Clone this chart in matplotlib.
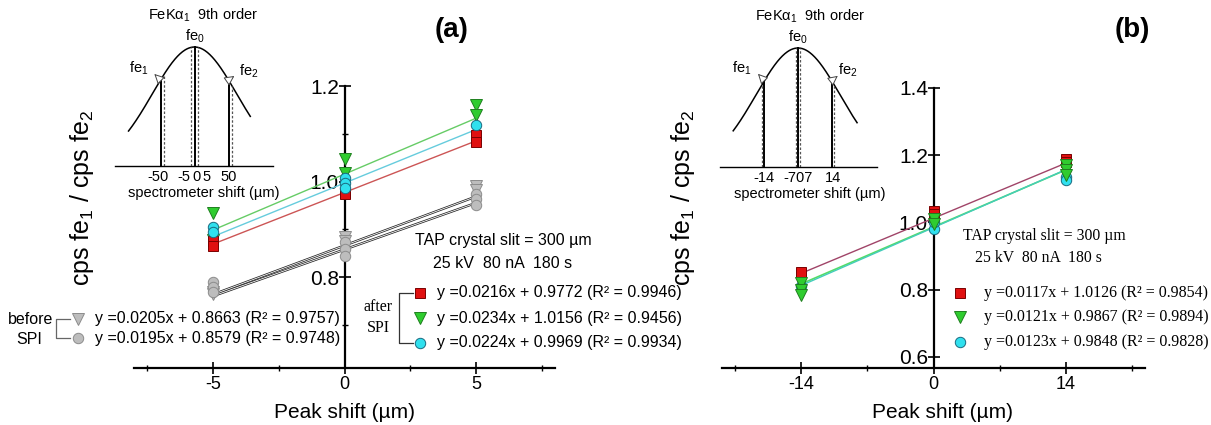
import numpy as np
import matplotlib
matplotlib.use('Agg')
import matplotlib.pyplot as plt

plt.rcParams['font.family'] = ['Liberation Sans', 'DejaVu Sans']
plt.rcParams['mathtext.fontset'] = 'custom'
plt.rcParams['mathtext.rm'] = 'Liberation Sans'
plt.rcParams['mathtext.it'] = 'Liberation Sans:italic'

# ---- panel (a) data: peak shift -5/0/5 um, replicate ratios
a_tri_grey_x = [-5, -5, 0, 0, 5, 5]
a_tri_grey_y = [0.770, 0.765, 0.885, 0.875, 0.990, 0.982]
a_cir_grey_x = [-5, -5, -5, 0, 0, 0, 5, 5, 5]
a_cir_grey_y = [0.790, 0.780, 0.770, 0.873, 0.858, 0.844, 0.973, 0.963, 0.950]
a_red_x = [-5, -5, 0, 0, 5, 5]
a_red_y = [0.875, 0.865, 0.977, 0.973, 1.098, 1.083]
a_green_x = [-5, -5, 0, 0, 5, 5]
a_green_y = [0.935, 0.877, 1.048, 1.019, 1.160, 1.140]
a_cyan_x = [-5, -5, 0, 0, 0, 5]
a_cyan_y = [0.906, 0.894, 1.008, 0.998, 0.987, 1.119]

# linear fits (slope, intercept), order: grey tri, grey circle, red, green, cyan
a_slope = [0.0205, 0.0195, 0.0216, 0.0234, 0.0224]
a_intercept = [0.8663, 0.8579, 0.9772, 1.0156, 0.9969]
a_r2 = [0.9757, 0.9748, 0.9946, 0.9456, 0.9934]
a_fit_range = [-5, 5]

# ---- panel (b) data: peak shift -14/0/14 um
b_red_x = [-14, 0, 0, 14, 14]
b_red_y = [0.852, 1.035, 1.025, 1.190, 1.180]
b_green_x = [-14, -14, -14, 0, 0, 14, 14, 14]
b_green_y = [0.820, 0.800, 0.785, 1.010, 0.995, 1.170, 1.155, 1.140]
b_cyan_x = [-14, 0, 0, 14, 14]
b_cyan_y = [0.810, 0.980, 1.000, 1.135, 1.125]

b_slope = [0.0117, 0.0121, 0.0123]
b_intercept = [1.0126, 0.9867, 0.9848]
b_r2 = [0.9854, 0.9894, 0.9828]
b_fit_range = [-14, 14]

# ---- styles
st_red = dict(marker='s', ms=7, mfc='#e01010', mec='#7a0000', mew=0.7, ls='none')
st_green = dict(marker='v', ms=8, mfc='#2fcc2f', mec='#1f7f1f', mew=0.7, ls='none')
st_cyan = dict(marker='o', ms=7.5, mfc='#30e0ee', mec='#1a6a80', mew=0.7, ls='none')
st_gtri = dict(marker='v', ms=8, mfc='#bdbdbd', mec='#8c8c8c', mew=0.7, ls='none')
st_gcir = dict(marker='o', ms=7.5, mfc='#bdbdbd', mec='#8c8c8c', mew=0.7, ls='none')

W, H = 1211, 425
fig = plt.figure(figsize=(W / 100, H / 100), dpi=100)


def px_rect(l, r, t, b):
    return [l / W, 1 - b / H, (r - l) / W, (b - t) / H]


def eq_text(m, c, r2):
    return 'y =%.4fx + %.4f (R² = %.4f)' % (m, c, r2)


def style_axes(ax, xlim, ylim, xmaj, xmin, ymaj, ymin):
    ax.set_xlim(xlim)
    ax.set_ylim(ylim)
    ax.patch.set_visible(False)
    for s in ['top', 'right']:
        ax.spines[s].set_visible(False)
    ax.spines['left'].set_position(('data', 0))
    ax.spines['left'].set_linewidth(1.6)
    ax.spines['bottom'].set_linewidth(1.6)
    ax.set_xticks(xmaj)
    ax.set_xticks(xmin, minor=True)
    ax.set_yticks(ymaj)
    ax.set_yticks(ymin, minor=True)
    ax.set_yticklabels(['%.1f' % v for v in ymaj])
    ax.set_xticklabels(['%g' % v for v in xmaj])
    ax.tick_params(axis='x', which='major', direction='inout', length=8, width=1.2, labelsize=13, pad=2)
    ax.tick_params(axis='x', which='minor', direction='inout', length=5, width=1.0)
    ax.tick_params(axis='y', which='major', direction='inout', length=8, width=1.2, labelsize=15, pad=0)
    ax.tick_params(axis='y', which='minor', direction='inout', length=4, width=1.0)


# ================= panel (a)
ax_a = fig.add_axes(px_rect(134, 555, 86, 368))
style_axes(ax_a, (-8, 8), (0.61, 1.2), [-5, 0, 5], [-7.5, -2.5, 2.5, 7.5],
           [0.8, 1.0, 1.2], [0.7, 0.9, 1.1])

xf = np.array(a_fit_range)
for i in [0, 1]:
    ax_a.plot(xf, a_slope[i] * xf + a_intercept[i], color='#222222', lw=1.7, zorder=2)
    ax_a.plot(xf, a_slope[i] * xf + a_intercept[i], color='white', lw=0.6, zorder=2.1)
ax_a.plot(xf, a_slope[2] * xf + a_intercept[2], color='#cc5555', lw=1.0, zorder=2)
ax_a.plot(xf, a_slope[3] * xf + a_intercept[3], color='#66cc66', lw=1.0, zorder=2)
ax_a.plot(xf, a_slope[4] * xf + a_intercept[4], color='#66ccdd', lw=1.0, zorder=2)

ax_a.plot(a_tri_grey_x, a_tri_grey_y, zorder=3, clip_on=False, **st_gtri)
ax_a.plot(a_cir_grey_x, a_cir_grey_y, zorder=3, clip_on=False, **st_gcir)
ax_a.plot(a_green_x, a_green_y, zorder=3, clip_on=False, **st_green)
ax_a.plot(a_red_x, a_red_y, zorder=3, clip_on=False, **st_red)
ax_a.plot(a_cyan_x, a_cyan_y, zorder=3, clip_on=False, **st_cyan)

# ================= panel (b)
ax_b = fig.add_axes(px_rect(722, 1145, 88, 368))
style_axes(ax_b, (-22.4, 22.4), (0.567, 1.4), [-14, 0, 14], [-21, -7, 7, 21],
           [0.6, 0.8, 1.0, 1.2, 1.4], [])

xf = np.array(b_fit_range)
ax_b.plot(xf, b_slope[0] * xf + b_intercept[0], color='#a04468', lw=1.0, zorder=2)
ax_b.plot(xf, b_slope[1] * xf + b_intercept[1], color='#55dd66', lw=1.2, zorder=2)
ax_b.plot(xf, b_slope[2] * xf + b_intercept[2], color='#44ccbb', lw=1.0, zorder=2)

ax_b.plot(b_red_x, b_red_y, zorder=3, clip_on=False, **st_red)
ax_b.plot(b_cyan_x, b_cyan_y, zorder=3, clip_on=False, **st_cyan)
ax_b.plot(b_green_x, b_green_y, zorder=3, clip_on=False, **st_green)


# ================= insets (schematic peak)
def peak(x, sigma):
    return np.exp(-x ** 2 / (2 * sigma ** 2))


def draw_inset(rect, xlim, ylim, sigma, span, solid, dashed, ticks, fe_pos, title_x):
    ins = fig.add_axes(rect)
    ins.set_xlim(xlim)
    ins.set_ylim(ylim)
    ins.patch.set_visible(False)
    for s in ['top', 'right', 'left']:
        ins.spines[s].set_visible(False)
    ins.spines['bottom'].set_linewidth(1.0)
    ins.set_xticks([])
    ins.set_yticks([])
    xs = np.linspace(span[0], span[1], 200)
    ins.plot(xs, peak(xs, sigma), color='k', lw=1.1)
    for v in solid:
        ins.plot([v, v], [0, peak(v, sigma)], color='k', lw=1.4)
    for v in dashed:
        ins.plot([v, v], [0, peak(v, sigma)], color='#555555', lw=0.9, ls=(0, (2, 1.5)))
    for lab, xv in ticks:
        ins.text(xv, -0.03, lab, ha='center', va='top', fontsize=10.5)
    ins.text(title_x, -0.165, 'spectrometer shift (µm)', ha='center', va='top', fontsize=10.5)
    ins.text(title_x, 1.27, 'FeKα$_1$  9th order', ha='center', va='center', fontsize=10.5, clip_on=False)
    ins.text(0, 1.09, 'fe$_0$', ha='center', va='center', fontsize=10.5)
    # fe1 / fe2 with open arrow heads
    for lab, xv, tx, ty, lx in fe_pos:
        ins.annotate('', xy=(tx, ty), xytext=(xv, peak(xv, sigma)),
                     arrowprops=dict(arrowstyle='-|>,head_length=0.6,head_width=0.3',
                                     fc='white', ec='#444444', lw=0.7))
        ins.text(lx, ty + 0.03, lab, ha='right' if xv < 0 else 'left', va='center', fontsize=10.5)
    return ins


draw_inset(px_rect(115, 273, 40, 166), (-116.9, 115.4), (0, 126 / 119), 62, (-97, 82),
           [-50, 0, 50], [-45, -5, 5, 55],
           [('-50', -53), ('-5', -16), ('0', 3), ('5', 17), ('50', 50)],
           [('fe$_1$', -50, -62, 0.79, -67), ('fe$_2$', 50, 62, 0.77, 66)], 13)

draw_inset(px_rect(720, 877, 40, 167), (-32.5, 32.9), (0, 127 / 119), 17.5, (-27, 24.6),
           [-14, 0, 14], [-15, -1, 1, 15],
           [('-14', -14), ('-707', 0), ('14', 14.6)],
           [('fe$_1$', -14, -17.5, 0.8, -19.5), ('fe$_2$', 14, 17.5, 0.78, 16.5)], 5)

# ================= overlay for legends, labels, brackets (pixel coords)
ov = fig.add_axes([0, 0, 1, 1])
ov.set_xlim(0, W)
ov.set_ylim(H, 0)
ov.axis('off')
ov.patch.set_visible(False)

# axis labels
ov.text(82, 198, 'cps fe$_1$ / cps fe$_2$', rotation=90, ha='center', va='center', fontsize=18)
ov.text(683, 198, 'cps fe$_1$ / cps fe$_2$', rotation=90, ha='center', va='center', fontsize=18)
ov.text(345, 412, 'Peak shift (µm)', ha='center', va='center', fontsize=15)
ov.text(943, 412, 'Peak shift (µm)', ha='center', va='center', fontsize=15)
ov.text(452, 30, '(a)', ha='center', va='center', fontsize=20, fontweight='bold')
ov.text(1132, 30, '(b)', ha='center', va='center', fontsize=20, fontweight='bold')

# panel (a) conditions + after SPI legend
ov.text(415, 240, 'TAP crystal slit = 300 µm', ha='left', va='center', fontsize=11.5)
ov.text(433, 264, '25 kV  80 nA  180 s', ha='left', va='center', fontsize=11.5)
rows_a = [293, 318, 343]
for st, yy, k in zip([st_red, st_green, st_cyan], rows_a, [2, 3, 4]):
    ov.plot([420], [yy], **st)
    ov.text(437, yy, eq_text(a_slope[k], a_intercept[k], a_r2[k]), ha='left', va='center', fontsize=11.5)
ov.plot([413, 399, 399, 413], [rows_a[0], rows_a[0], rows_a[2], rows_a[2]], color='#333333', lw=0.9)
ov.text(378, 307, 'after', ha='center', va='center', fontsize=11.5, family='Liberation Serif')
ov.text(378, 328, 'SPI', ha='center', va='center', fontsize=11.5, family='Liberation Serif')

# panel (a) before SPI legend
rows_b = [319, 338]
for st, yy, k in zip([st_gtri, st_gcir], rows_b, [0, 1]):
    ov.plot([78], [yy], **st)
    ov.text(95, yy, eq_text(a_slope[k], a_intercept[k], a_r2[k]), ha='left', va='center', fontsize=11.5)
ov.plot([70, 56, 56, 70], [rows_b[0], rows_b[0], rows_b[1], rows_b[1]], color='#666666', lw=0.9)
ov.text(53, 319, 'before', ha='right', va='center', fontsize=11.5)
ov.text(29, 339, 'SPI', ha='center', va='center', fontsize=11.5)

# panel (b) legend (serif)
ov.text(963, 236, 'TAP crystal slit = 300 µm', ha='left', va='center', fontsize=11.3, family='Liberation Serif')
ov.text(975, 258, '25 kV  80 nA  180 s', ha='left', va='center', fontsize=11.3, family='Liberation Serif')
rows_c = [293, 317, 342]
for st, yy, k in zip([st_red, st_green, st_cyan], rows_c, [0, 1, 2]):
    ov.plot([960], [yy], **st)
    ov.text(984, yy, eq_text(b_slope[k], b_intercept[k], b_r2[k]), ha='left', va='center',
            fontsize=11.5, family='Liberation Serif')

fig.savefig('out.png', dpi=100)
